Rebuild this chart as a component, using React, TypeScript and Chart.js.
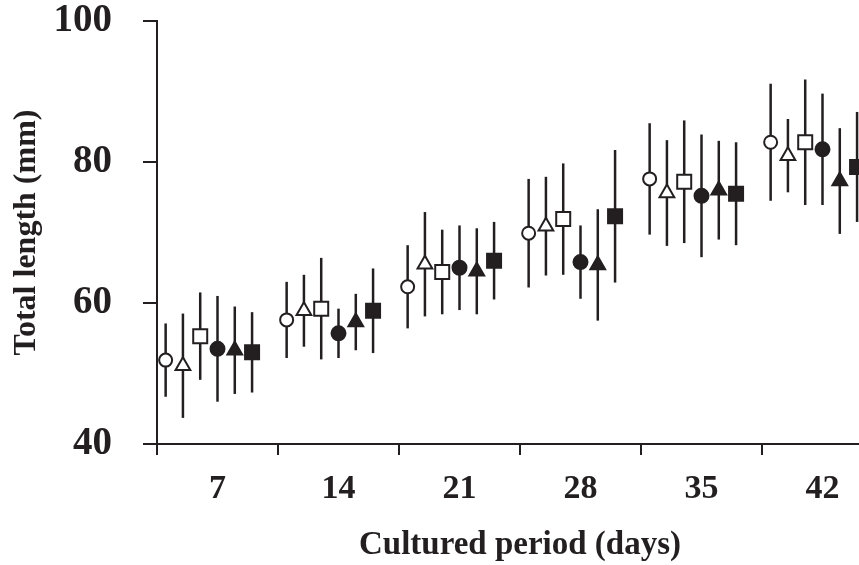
import React, { useEffect, useRef } from 'react';
import { Chart, registerables } from 'chart.js';

Chart.register(...registerables);

// ---- data ----
const days = [7, 14, 21, 28, 35, 42];
const seriesOffsets = [-3, -2, -1, 0, 1, 2];
const boundaryTicks = [3.5, 10.5, 17.5, 24.5, 31.5, 38.5, 45.5];
const yTicks = [40, 60, 80, 100];

const openCircleMean = [51.9, 57.6, 62.3, 69.9, 77.6, 82.8];
const openCircleSD = [5.2, 5.4, 5.9, 7.7, 7.9, 8.3];
const openTriangleMean = [51.1, 58.9, 65.5, 70.9, 75.6, 80.9];
const openTriangleSD = [7.4, 5.1, 7.4, 7.0, 7.5, 5.2];
const openSquareMean = [55.3, 59.2, 64.4, 71.9, 77.2, 82.8];
const openSquareSD = [6.2, 7.2, 6.0, 7.9, 8.7, 8.9];
const filledCircleMean = [53.5, 55.7, 65.0, 65.8, 75.2, 81.8];
const filledCircleSD = [7.5, 3.5, 6.0, 5.2, 8.7, 7.9];
const filledTriangleMean = [53.3, 57.3, 64.5, 65.4, 76.0, 77.3];
const filledTriangleSD = [6.2, 4.0, 6.1, 7.9, 7.0, 7.5];
const filledSquareMean = [53.0, 58.9, 66.0, 72.3, 75.5, 79.3];
const filledSquareSD = [5.7, 6.0, 5.5, 9.4, 7.3, 7.8];

const xTitle = 'Cultured period (days)';
const yTitle = 'Total length (mm)';

const INK = '#231f20';
const FONT = "'Liberation Serif', 'Times New Roman', serif";

const seriesList = [
  { label: 'Open circle', mean: openCircleMean, sd: openCircleSD, style: 'circle', filled: false, r: 6.5 },
  { label: 'Open triangle', mean: openTriangleMean, sd: openTriangleSD, style: 'triangle', filled: false, r: 8.5 },
  { label: 'Open square', mean: openSquareMean, sd: openSquareSD, style: 'rect', filled: false, r: 9.9 },
  { label: 'Filled circle', mean: filledCircleMean, sd: filledCircleSD, style: 'circle', filled: true, r: 7 },
  { label: 'Filled triangle', mean: filledTriangleMean, sd: filledTriangleSD, style: 'triangle', filled: true, r: 8.5 },
  { label: 'Filled square', mean: filledSquareMean, sd: filledSquareSD, style: 'rect', filled: true, r: 9.9 },
];

const errorBarPlugin = {
  id: 'errorBars',
  beforeDatasetsDraw(chart: any) {
    const { ctx, scales } = chart;
    const xs = scales.x;
    const ys = scales.y;
    ctx.save();
    ctx.strokeStyle = INK;
    ctx.lineWidth = 2.5;
    chart.data.datasets.forEach((ds: any) => {
      ds.data.forEach((p: any) => {
        const px = xs.getPixelForValue(p.x);
        ctx.beginPath();
        ctx.moveTo(px, ys.getPixelForValue(p.y - p.sd));
        ctx.lineTo(px, ys.getPixelForValue(p.y + p.sd));
        ctx.stroke();
      });
    });
    ctx.restore();
  },
};

export default function App() {
  const ref = useRef<HTMLCanvasElement | null>(null);

  useEffect(() => {
    if (!ref.current) return;
    const datasets = seriesList.map((s, si) => ({
      label: s.label,
      data: days.map((d, i) => ({ x: d + seriesOffsets[si], y: s.mean[i], sd: s.sd[i] })),
      pointStyle: s.style,
      pointRadius: s.r,
      pointHoverRadius: s.r,
      pointBorderWidth: 2,
      pointBackgroundColor: s.filled ? INK : '#ffffff',
      pointBorderColor: INK,
      showLine: false,
    }));

    const xTickValues = [...boundaryTicks, ...days].sort((a, b) => a - b);

    const chart = new Chart(ref.current, {
      type: 'scatter',
      data: { datasets: datasets as any },
      plugins: [errorBarPlugin],
      options: {
        animation: false,
        responsive: false,
        events: [],
        layout: { autoPadding: false, padding: { top: 21, left: 0, right: 1, bottom: 0 } },
        plugins: { legend: { display: false }, tooltip: { enabled: false } },
        scales: {
          x: {
            type: 'linear',
            min: 3.5,
            max: 45.5,
            afterBuildTicks: (scale: any) => {
              scale.ticks = xTickValues.map((v) => ({ value: v }));
            },
            afterFit: (scale: any) => {
              scale.height = 121;
              scale.paddingLeft = 0;
              scale.paddingRight = 0;
            },
            grid: {
              drawOnChartArea: false,
              drawTicks: true,
              tickLength: 11,
              lineWidth: 2,
              color: (ctx: any) =>
                ctx.tick && ctx.tick.value % 7 === 0 ? 'rgba(0,0,0,0)' : INK,
            },
            border: { display: true, color: INK, width: 2 },
            ticks: {
              autoSkip: false,
              maxRotation: 0,
              padding: 14,
              color: INK,
              font: { family: FONT, size: 34, weight: 'bold' },
              callback: (v: any) => (Number(v) % 7 === 0 ? String(v) : ''),
            },
            title: {
              display: true,
              text: xTitle,
              color: INK,
              font: { family: FONT, size: 33, weight: 'bold' },
              padding: { top: 0, bottom: 0 },
            },
          },
          y: {
            type: 'linear',
            min: 40,
            max: 100,
            afterBuildTicks: (scale: any) => {
              scale.ticks = yTicks.map((v) => ({ value: v }));
            },
            afterFit: (scale: any) => {
              scale.width = 157;
              scale.paddingTop = 0;
              scale.paddingBottom = 0;
            },
            grid: {
              drawOnChartArea: false,
              drawTicks: true,
              tickLength: 14,
              lineWidth: 2,
              color: INK,
            },
            border: { display: true, color: INK, width: 2 },
            ticks: {
              padding: 31,
              color: INK,
              font: { family: FONT, size: 39, weight: 'bold', lineHeight: 1 },
            },
            title: {
              display: true,
              text: yTitle,
              color: INK,
              font: { family: FONT, size: 32, weight: 'bold' },
              padding: { top: 8, bottom: 0 },
            },
          },
        },
      } as any,
    });
    return () => chart.destroy();
  }, []);

  return (
    <div
      style={{
        position: 'fixed',
        left: 0,
        top: 0,
        width: 859,
        height: 565,
        overflow: 'hidden',
        background: '#fff',
      }}
    >
      <canvas ref={ref} width={884} height={565} style={{ display: 'block', width: 884, height: 565 }} />
    </div>
  );
}
